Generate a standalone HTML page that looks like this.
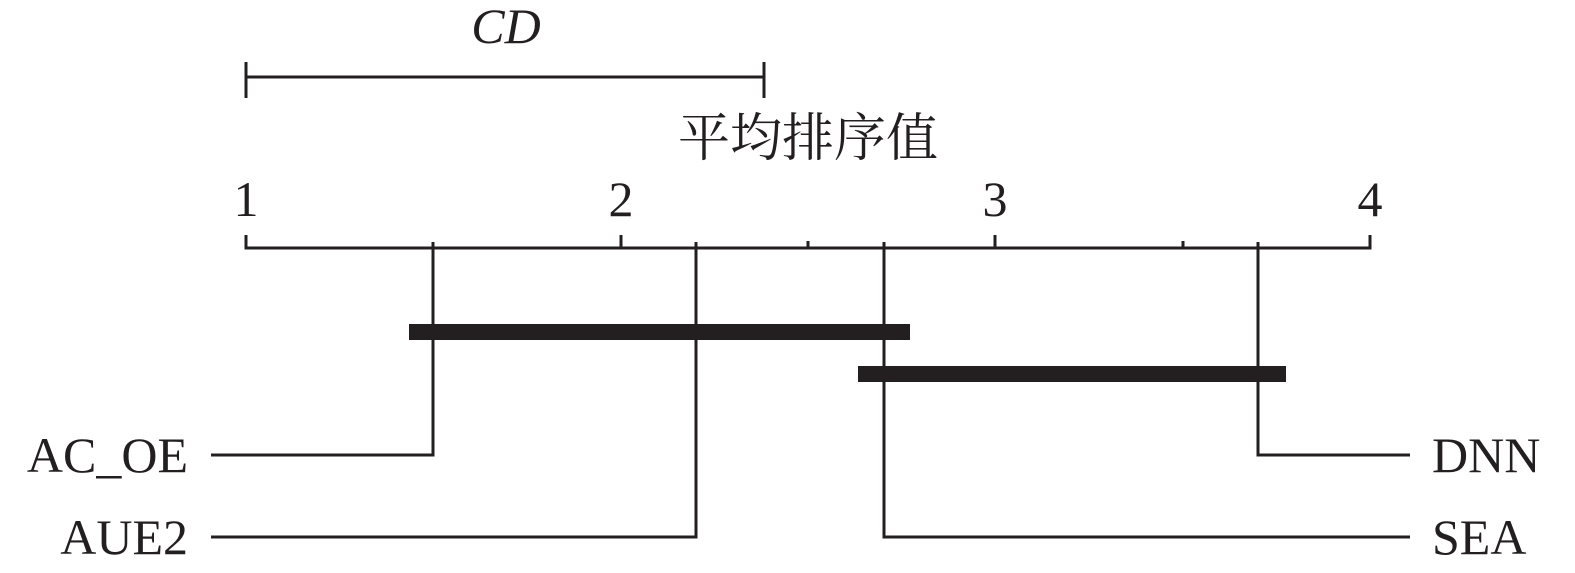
<!DOCTYPE html>
<html><head><meta charset="utf-8"><style>html,body{margin:0;padding:0;background:#fff}svg{display:block}</style></head>
<body>
<svg width="1575" height="573" viewBox="0 0 1575 573" xmlns="http://www.w3.org/2000/svg">
<g stroke="#231f20" stroke-width="3" fill="none">
<path d="M246 62V98M764 62V98M246 77H764"/>
<path d="M246 235V248H1370V235M621 235V248M995 235V248M808 241V248M1183 241V248"/>
<path d="M433 242V455H211"/>
<path d="M696 242V537H211"/>
<path d="M884 242V537H1410"/>
<path d="M1258 242V455H1410"/>
</g>
<rect x="409" y="324" width="501" height="16" fill="#231f20"/>
<rect x="858" y="366" width="428" height="16" fill="#231f20"/>
<g font-family="Liberation Serif, serif" font-size="50" fill="#231f20">
<text x="506" y="43" text-anchor="middle" font-style="italic">CD</text>
<text x="808" y="156" text-anchor="middle" font-size="52" font-family="Liberation Serif, Noto Serif CJK SC, serif">平均排序值</text>
<text x="246" y="216" text-anchor="middle">1</text>
<text x="621" y="216" text-anchor="middle">2</text>
<text x="995" y="216" text-anchor="middle">3</text>
<text x="1370" y="216" text-anchor="middle">4</text>
<text x="188" y="472" text-anchor="end">AC_OE</text>
<text x="188" y="554" text-anchor="end">AUE2</text>
<text x="1432" y="472">DNN</text>
<text x="1432" y="554">SEA</text>
</g>
</svg>
</body></html>
